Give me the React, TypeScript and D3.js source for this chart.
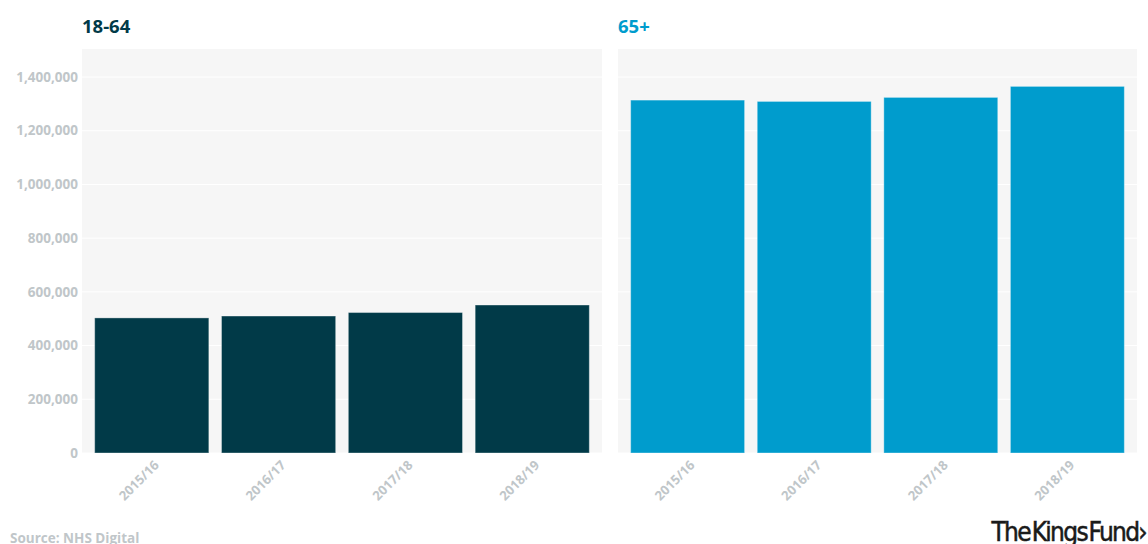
import React from "react";
import * as d3 from "d3";

const years = ["2015/16", "2016/17", "2017/18", "2018/19"];
const values1864 = [503000, 510000, 523000, 551000];
const values65 = [1314000, 1309000, 1324000, 1365000];
const yTicks = [0, 200000, 400000, 600000, 800000, 1000000, 1200000, 1400000];
const panelTitles = ["18-64", "65+"];

const W = 1148;
const H = 544;
const FONT = "'Open Sans', Lato, sans-serif";

export default function App() {
  const y = d3.scaleLinear().domain([0, 1400000]).range([453, 77]);
  const panels = [
    { x0: 82, x1: 602, title: panelTitles[0], values: values1864, color: "#013a48", titleColor: "#013a48", yLabels: true },
    { x0: 618, x1: 1137, title: panelTitles[1], values: values65, color: "#009ccd", titleColor: "#009ccd", yLabels: false },
  ];
  const fmt = d3.format(",");
  return (
    <svg width={W} height={H} style={{ position: "absolute", left: 0, top: 0 }}>
      <rect x={0} y={0} width={W} height={H} fill="#ffffff" />
      {panels.map((p, pi) => {
        const x = d3.scaleBand<string>().domain(years).range([p.x0, p.x1]).paddingInner(0.1).paddingOuter(0.1);
        return (
          <g key={pi}>
            <rect x={p.x0} y={49} width={p.x1 - p.x0} height={453 - 49} fill="#f6f6f6" />
            {yTicks.map((t) => (
              <line key={t} x1={p.x0} x2={p.x1} y1={y(t)} y2={y(t)} stroke="#ffffff" strokeWidth={1} />
            ))}
            {p.yLabels &&
              yTicks.map((t) => (
                <text key={"l" + t} x={p.x0 - 4} y={y(t)} dy="0.35em" textAnchor="end" fontFamily={FONT} fontWeight={700} fontSize={13.5} fill="#c0c6c9">
                  {fmt(t)}
                </text>
              ))}
            <text x={p.x0} y={33} fontFamily={FONT} fontWeight={700} fontSize={18.5} fill={p.titleColor}>
              {p.title}
            </text>
            {years.map((yr, i) => (
              <rect key={yr} x={x(yr)} y={y(p.values[i])} width={x.bandwidth()} height={y(0) - y(p.values[i])} fill={p.color} stroke="rgba(255,255,255,0.35)" strokeWidth={1} />
            ))}
            {years.map((yr) => {
              const cx = (x(yr) as number) + x.bandwidth() / 2 + 8;
              return (
                <text key={"x" + yr} transform={`translate(${cx},${466}) rotate(-45)`} textAnchor="end" fontFamily={FONT} fontWeight={700} fontSize={13} fill="#c0c6c9">
                  {yr}
                </text>
              );
            })}
          </g>
        );
      })}
      <text x={10} y={543} fontFamily={FONT} fontWeight={700} fontSize={13.5} fill="#c0c6c9">
        Source: NHS Digital
      </text>
      <text x={1146} y={541} textAnchor="end" fontFamily="'DejaVu Sans Condensed', 'Liberation Sans Narrow', sans-serif" fontSize={26} letterSpacing={-1.7} wordSpacing={-4} fill="#1a1a1a" stroke="#1a1a1a" strokeWidth={0.5}>
        The Kings Fund›
      </text>
    </svg>
  );
}
